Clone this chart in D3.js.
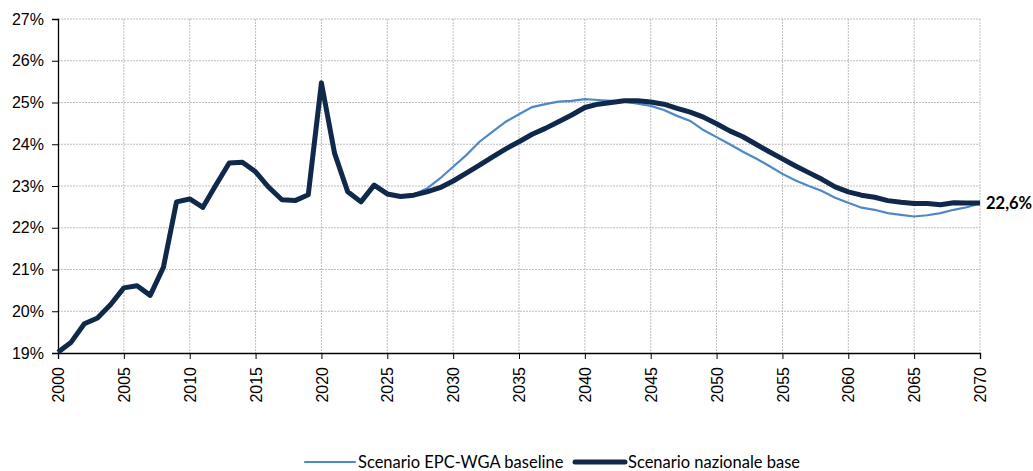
<!DOCTYPE html>
<html>
<head>
<meta charset="utf-8">
<script src="https://cdn.jsdelivr.net/npm/d3@7"></script>
<style>
  body { margin: 0; background: #fff; }
  svg { font-family: Lato, "Open Sans", sans-serif; }
</style>
</head>
<body>
<svg id="chart" width="1033" height="471"></svg>
<script>
// years 2000..2070
const years = d3.range(2000, 2071);

// Scenario nazionale base (2000-2070)
const nazionale = [
  19.02, 19.26, 19.70, 19.84, 20.16, 20.56, 20.61, 20.38, 21.05, 22.62,
  22.69, 22.49, 23.03, 23.55, 23.57, 23.34, 22.97, 22.67, 22.65, 22.79,
  25.47, 23.78, 22.86, 22.62, 23.02, 22.81, 22.75, 22.78, 22.86, 22.96,
  23.12, 23.31, 23.50, 23.70, 23.89, 24.06, 24.24, 24.38, 24.54, 24.70,
  24.88, 24.96, 25.00, 25.04, 25.04, 25.01, 24.96, 24.86, 24.77, 24.65,
  24.49, 24.32, 24.18, 24.00, 23.82, 23.65, 23.48, 23.32, 23.16, 22.98,
  22.86, 22.78, 22.73, 22.65, 22.61, 22.58, 22.58, 22.55, 22.60, 22.59,
  22.59
];

// Scenario EPC-WGA baseline (2022-2070)
const epcYears = d3.range(2022, 2071);
const epc = [
  22.86, 22.62, 23.02, 22.81, 22.75, 22.79, 22.94, 23.18,
  23.46, 23.74, 24.06, 24.30, 24.54, 24.72, 24.89, 24.96, 25.02, 25.04,
  25.08, 25.06, 25.04, 25.02, 24.97, 24.92, 24.82, 24.68, 24.56, 24.34,
  24.17, 24.00, 23.82, 23.66, 23.48, 23.29, 23.13, 23.00, 22.88, 22.72,
  22.60, 22.48, 22.43, 22.35, 22.31, 22.27, 22.30, 22.35, 22.43, 22.49,
  22.58
];

const yTicks = [19, 20, 21, 22, 23, 24, 25, 26, 27];
const xTicks = d3.range(2000, 2071, 5);
const seriesNames = ["Scenario EPC-WGA baseline", "Scenario nazionale base"];
const endLabel = "22,6%";

const svg = d3.select("#chart");
const margin = { left: 58, top: 19, right: 53, bottom: 118 };
const width = 1033 - margin.left - margin.right;
const height = 471 - margin.top - margin.bottom;

const x = d3.scaleLinear().domain([2000, 2070]).range([0, width]);
const y = d3.scaleLinear().domain([19, 27]).range([height, 0]);

const g = svg.append("g").attr("transform", `translate(${margin.left},${margin.top})`);

// grid
g.append("g")
  .attr("class", "grid-y")
  .selectAll("line")
  .data(yTicks.slice(1))
  .join("line")
  .attr("x1", 0)
  .attr("x2", width)
  .attr("y1", (d) => y(d))
  .attr("y2", (d) => y(d))
  .attr("stroke", "#bdbdbd")
  .attr("stroke-dasharray", "2,1");

g.append("g")
  .attr("class", "grid-x")
  .selectAll("line")
  .data(xTicks.slice(1))
  .join("line")
  .attr("x1", (d) => x(d))
  .attr("x2", (d) => x(d))
  .attr("y1", 0)
  .attr("y2", height)
  .attr("stroke", "#bdbdbd")
  .attr("stroke-dasharray", "2,1");

// axes
const yAxis = g.append("g")
  .attr("class", "y-axis")
  .call(d3.axisLeft(y).tickValues(yTicks).tickSize(6).tickPadding(8)
    .tickFormat((d) => d + "%"));
yAxis.select(".domain").attr("stroke", "#000").attr("stroke-width", 1.3);
yAxis.selectAll(".tick line").attr("stroke", "#000");
yAxis.selectAll("text").attr("font-size", 16).attr("fill", "#000");

const xAxis = g.append("g")
  .attr("class", "x-axis")
  .attr("transform", `translate(0,${height})`)
  .call(d3.axisBottom(x).tickValues(xTicks).tickSize(6).tickFormat(d3.format("d")));
xAxis.select(".domain").attr("stroke", "#000").attr("stroke-width", 1.3);
xAxis.selectAll(".tick line").attr("stroke", "#000");
xAxis.selectAll("text")
  .attr("font-size", 16)
  .attr("fill", "#000")
  .attr("transform", "rotate(-90)")
  .attr("text-anchor", "end")
  .attr("dy", "0.35em")
  .attr("x", -14)
  .attr("y", 0);

const line = d3.line()
  .x((d) => x(d[0]))
  .y((d) => y(d[1]));

g.append("path")
  .datum(epcYears.map((yr, i) => [yr, epc[i]]))
  .attr("fill", "none")
  .attr("stroke", "#4f88c6")
  .attr("stroke-width", 2.2)
  .attr("d", line);

g.append("path")
  .datum(years.map((yr, i) => [yr, nazionale[i]]))
  .attr("fill", "none")
  .attr("stroke", "#10284a")
  .attr("stroke-width", 5)
  .attr("stroke-linejoin", "round")
  .attr("d", line);

g.append("text")
  .attr("x", x(2070) + 6)
  .attr("y", y(nazionale[nazionale.length - 1]))
  .attr("dy", "0.35em")
  .attr("font-size", 16.5)
  .attr("font-weight", 700)
  .text(endLabel);

// legend
const legend = svg.append("g").attr("class", "legend").attr("transform", "translate(0,462)");
const legendItems = [
  { name: seriesNames[0], x: 305, color: "#4f88c6", w: 2.2 },
  { name: seriesNames[1], x: 575, color: "#10284a", w: 5 },
];
const li = legend.selectAll("g").data(legendItems).join("g")
  .attr("transform", (d) => `translate(${d.x},0)`);
li.append("line")
  .attr("x1", 0).attr("x2", 50)
  .attr("stroke", (d) => d.color)
  .attr("stroke-width", (d) => d.w)
  .attr("stroke-linecap", "round");
li.append("text")
  .attr("x", 53)
  .attr("dy", "0.35em")
  .attr("font-size", 16.5)
  .attr("fill", "#000")
  .text((d) => d.name);
</script>
</body>
</html>
